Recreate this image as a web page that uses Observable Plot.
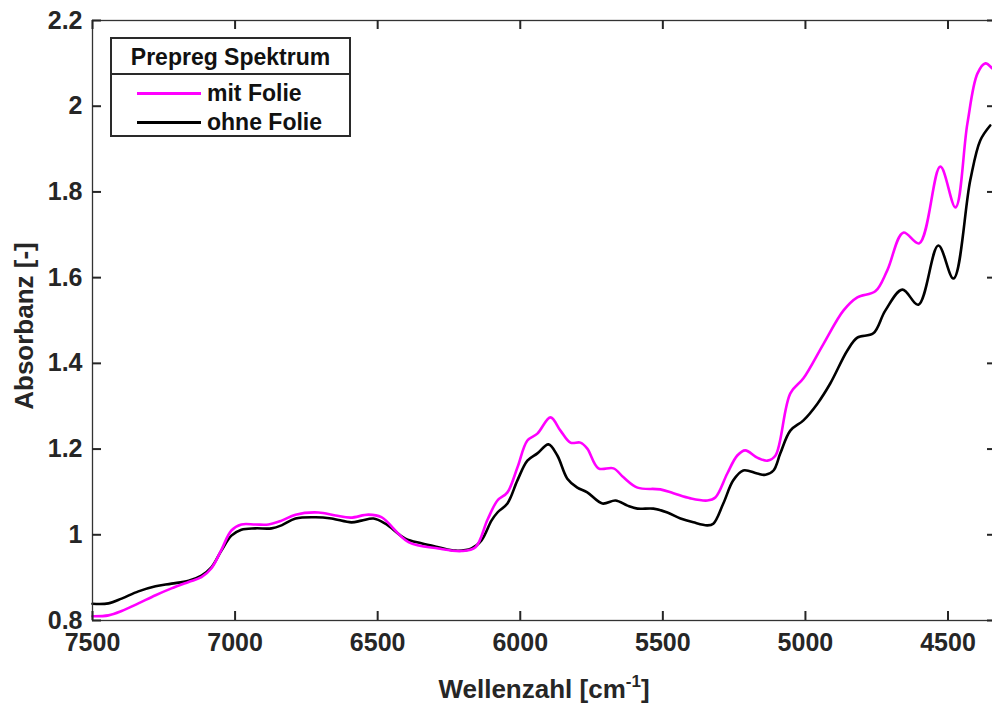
<!DOCTYPE html>
<html>
<head>
<meta charset="utf-8">
<script src="https://cdn.jsdelivr.net/npm/d3@7"></script>
<script src="https://cdn.jsdelivr.net/npm/@observablehq/plot@0.6"></script>
<style>
  html, body { margin: 0; padding: 0; background: #fff; }
  body { width: 992px; height: 704px; overflow: hidden; position: relative; font-family: "Liberation Sans", Arial, sans-serif; color: #262626; }
  #chart { position: absolute; left: 0; top: 0; width: 998px; }
  #chart svg { max-width: none; }
  .lbl { position: absolute; font-weight: bold; font-size: 26px; line-height: 26px; white-space: nowrap; color: #262626; }
  .lbl sup { font-size: 17px; vertical-align: 11px; line-height: 0; }
  #legend { position: absolute; left: 110px; top: 37px; width: 241px; height: 100px; box-sizing: border-box; border: 2px solid #2a2a2a; background: #fff; font-weight: bold; font-size: 23px; color: #111; }
  #legend .title { position: absolute; left: 0; top: 0; width: 100%; height: 36px; border-bottom: 2px solid #2a2a2a; text-align: center; line-height: 36px; box-sizing: border-box; }
  #legend .item { position: absolute; left: 95px; line-height: 22px; }
  #legend .sw { position: absolute; left: 25px; width: 64px; height: 3px; }
</style>
</head>
<body>
<div id="chart"></div>
<div id="legend"></div>
<div class="lbl" id="xlabel" style="left:344px; width:400px; text-align:center; top:676px;">Wellenzahl [cm<sup>-1</sup>]</div>
<div class="lbl" id="ylabel" style="left:24px; top:326px; transform: translate(-50%,-50%) rotate(-90deg);">Absorbanz [-]</div>
<script>
// Series "mit Folie" (magenta)
const wnMit = [7500,7444,7398,7339,7279,7223,7163,7118,7083,7048,7013,6978,6929,6883,6837,6788,6708,6648,6595,6532,6487,6392,6287,6206,6157,6115,6080,6045,6010,5975,5940,5894,5859,5824,5789,5765,5726,5673,5638,5589,5509,5463,5403,5344,5316,5274,5239,5211,5169,5133,5105,5053,5007,4937,4867,4818,4755,4713,4657,4601,4527,4474,4432,4397,4369,4345];
const absMit = [0.810,0.812,0.822,0.840,0.859,0.875,0.890,0.901,0.922,0.965,1.010,1.024,1.024,1.024,1.033,1.047,1.052,1.045,1.040,1.047,1.041,0.983,0.968,0.962,0.971,1.035,1.080,1.099,1.157,1.220,1.236,1.274,1.243,1.215,1.215,1.201,1.155,1.155,1.134,1.110,1.106,1.097,1.085,1.080,1.087,1.143,1.185,1.197,1.180,1.173,1.185,1.330,1.365,1.445,1.523,1.554,1.568,1.617,1.705,1.680,1.859,1.764,1.960,2.076,2.100,2.088];
// Series "ohne Folie" (black)
const wnOhne = [7500,7444,7398,7339,7279,7223,7163,7118,7083,7048,7013,6978,6929,6872,6837,6788,6718,6662,6592,6557,6515,6473,6403,6347,6287,6227,6171,6136,6101,6080,6045,6010,5975,5940,5901,5870,5835,5800,5765,5712,5666,5624,5589,5533,5484,5438,5393,5344,5323,5288,5253,5218,5169,5140,5112,5088,5053,5007,4958,4913,4853,4818,4762,4720,4660,4604,4534,4481,4422,4387,4352];
const absOhne = [0.839,0.840,0.851,0.868,0.880,0.886,0.893,0.905,0.924,0.963,0.998,1.012,1.015,1.015,1.022,1.038,1.041,1.038,1.029,1.033,1.038,1.026,0.991,0.980,0.971,0.963,0.968,0.987,1.033,1.052,1.073,1.127,1.173,1.190,1.211,1.185,1.131,1.110,1.099,1.073,1.080,1.068,1.061,1.061,1.052,1.038,1.029,1.022,1.026,1.073,1.127,1.150,1.143,1.140,1.150,1.190,1.243,1.267,1.306,1.353,1.430,1.460,1.470,1.523,1.572,1.537,1.675,1.598,1.827,1.920,1.955];

const seriesNames = ["mit Folie", "ohne Folie"];
const seriesColors = ["#ff00ff", "#000000"];
const legendTitle = "Prepreg Spektrum";
const xTicks = [7500, 7000, 6500, 6000, 5500, 5000, 4500];
const yTicks = [0.8, 1.0, 1.2, 1.4, 1.6, 1.8, 2.0, 2.2];
const xDomain = [7500, 4330];
const yDomain = [0.8, 2.2];

const mit = wnMit.map((w, i) => ({wn: w, a: absMit[i]}));
const ohne = wnOhne.map((w, i) => ({wn: w, a: absOhne[i]}));

const W = 998, H = 704, mL = 92, mR = 2, mT = 20, mB = 84;
const plotW = W - mL - mR, plotH = H - mT - mB;
const tl = 9;
const fontTick = {fontSize: 25, fontWeight: "bold"};
const axisCol = "#262626";

const chart = Plot.plot({
  width: W,
  height: H,
  marginLeft: mL,
  marginRight: mR,
  marginTop: mT,
  marginBottom: mB,
  style: {fontFamily: "'Liberation Sans', Arial, sans-serif", color: "#262626"},
  x: {domain: xDomain},
  y: {domain: yDomain},
  marks: [
    Plot.line(ohne, {x: "wn", y: "a", stroke: seriesColors[1], strokeWidth: 2.6, curve: "catmull-rom"}),
    Plot.line(mit, {x: "wn", y: "a", stroke: seriesColors[0], strokeWidth: 2.6, curve: "catmull-rom"}),
    Plot.frame({stroke: "#333333", strokeWidth: 1.3}),
    // inward ticks (MATLAB style) on all four sides, drawn as thin rects so they render solidly
    Plot.tickX(xTicks, {x: d => d, insetTop: plotH - tl, stroke: axisCol, strokeWidth: 2}),
    Plot.tickX(xTicks, {x: d => d, insetBottom: plotH - tl, stroke: axisCol, strokeWidth: 2}),
    Plot.tickY(yTicks, {y: d => d, insetRight: plotW - tl, stroke: axisCol, strokeWidth: 2}),
    Plot.tickY(yTicks, {y: d => d, insetLeft: plotW - tl, stroke: axisCol, strokeWidth: 2}),
    Plot.axisX({anchor: "bottom", ticks: xTicks, tickSize: 0, tickPadding: 13, tickFormat: d => String(d), label: null, ...fontTick}),
    Plot.axisY({anchor: "left", ticks: yTicks, tickSize: 0, tickPadding: 10, tickFormat: d => String(+d.toFixed(1)), label: null, ...fontTick})
  ]
});
chart.style.maxWidth = "none";
document.getElementById("chart").appendChild(chart);

// Legend
const lg = document.getElementById("legend");
const t = document.createElement("div");
t.className = "title"; t.textContent = legendTitle; lg.appendChild(t);
const rowY = [54, 83]; // centre of each row, relative to legend box
seriesNames.forEach((name, i) => {
  const sw = document.createElement("div");
  sw.className = "sw"; sw.style.top = (rowY[i] - 1.5) + "px"; sw.style.background = seriesColors[i];
  lg.appendChild(sw);
  const it = document.createElement("div");
  it.className = "item"; it.style.top = (rowY[i] - 11) + "px"; it.textContent = name;
  lg.appendChild(it);
});
</script>
</body>
</html>
